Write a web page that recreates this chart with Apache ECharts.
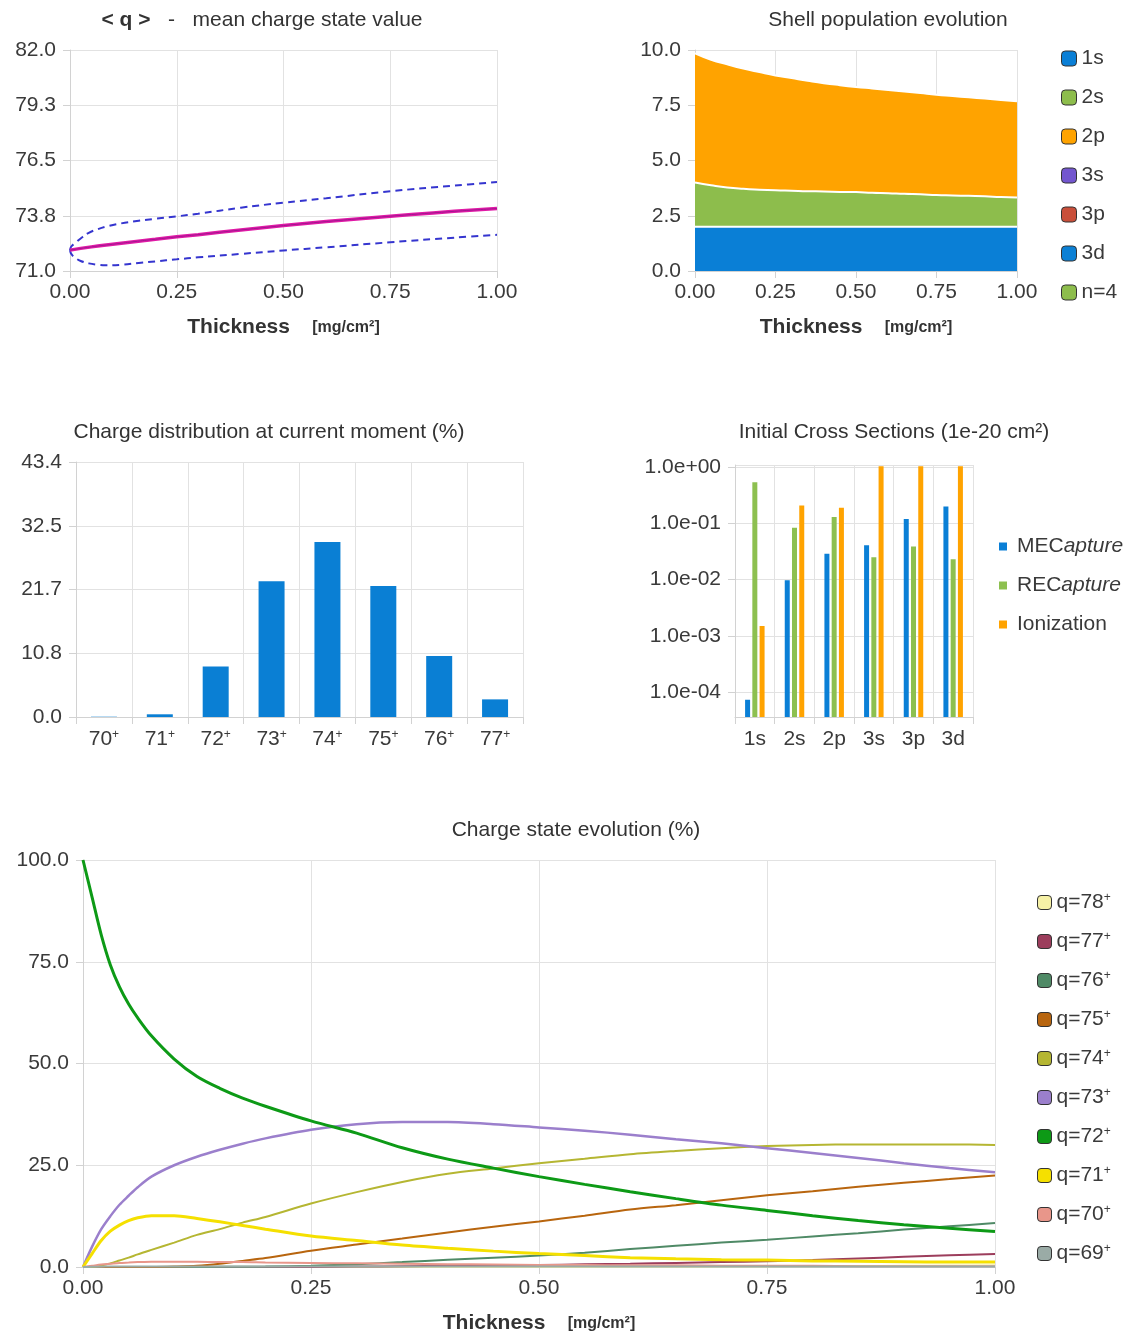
<!DOCTYPE html>
<html><head><meta charset="utf-8">
<script src="https://cdn.jsdelivr.net/npm/echarts@6/dist/echarts.min.js"></script>
<style>html,body{margin:0;padding:0;background:#fff}#c{width:1128px;height:1335px}</style>
</head><body><div id="c"></div><script>
// ---------- Chart 1: mean charge state ----------
const meanT = [0,0.05,0.1,0.15,0.2,0.25,0.3,0.4,0.5,0.6,0.7,0.8,0.9,1.0];
const meanQ = [72.04,72.2,72.33,72.46,72.58,72.7,72.81,73.04,73.26,73.46,73.64,73.81,73.97,74.11];
const bandT = [0,0.003,0.0125,0.025,0.044,0.065,0.083,0.12,0.161,0.2,0.25,0.3,0.4,0.5,0.6,0.75,0.9,1.0];
const upperQ = [72.04,72.22,72.40,72.62,72.9,73.08,73.2,73.37,73.5,73.6,73.72,73.85,74.15,74.4,74.62,74.97,75.25,75.43];
const lowerQ = [72.04,71.85,71.65,71.5,71.38,71.31,71.28,71.31,71.4,71.48,71.58,71.68,71.85,72.02,72.18,72.43,72.66,72.8];

// ---------- Chart 2: shell population ----------
const shellT = ['0','0.05','0.1','0.15','0.2','0.25','0.3','0.35','0.4','0.45','0.5','0.55','0.6','0.65','0.7','0.75','0.8','0.85','0.9','0.95','1'];
const shellNames = ['1s','2s','2p','3s','3p','3d','n=4'];
const pop1s = [2,2,2,2,2,2,2,2,2,2,2,2,2,2,2,2,2,2,2,2,2];
const pop2s = [2.0,1.88,1.78,1.72,1.68,1.65,1.63,1.61,1.6,1.58,1.57,1.54,1.52,1.49,1.47,1.44,1.42,1.4,1.38,1.35,1.33];
const pop2p = [5.85,5.68,5.57,5.44,5.32,5.2,5.1,5.0,4.9,4.83,4.76,4.72,4.67,4.63,4.58,4.54,4.5,4.46,4.42,4.39,4.35];
const pop3s = [0,0,0,0,0,0,0,0,0,0,0,0,0,0,0,0,0,0,0,0,0];
const pop3p = [0,0,0,0,0,0,0,0,0,0,0,0,0,0,0,0,0,0,0,0,0];
const pop3d = [0,0,0,0,0,0,0,0,0,0,0,0,0,0,0,0,0,0,0,0,0];
const popN4 = [0,0,0,0,0,0,0,0,0,0,0,0,0,0,0,0,0,0,0,0,0];

// ---------- Chart 3: charge distribution ----------
const chargeCats = ['70','71','72','73','74','75','76','77'];
const chargeDist = [0.05,0.46,8.6,23.1,29.8,22.3,10.4,3.0];

// ---------- Chart 4: cross sections ----------
const csCats = ['1s','2s','2p','3s','3p','3d'];
const meCapture = [7.3e-5,9.8e-3,0.029,0.041,0.12,0.2];
const reCapture = [0.54,0.084,0.13,0.025,0.039,0.023];
const ionization = [1.5e-3,0.21,0.19,1.05,1.05,1.05];

// ---------- Chart 5: charge state evolution ----------
const evoT = [0,0.01,0.02,0.03,0.04,0.05,0.06,0.075,0.1,0.125,0.15,0.175,0.2,0.25,0.3,0.35,0.4,0.45,0.5,0.55,0.6,0.65,0.7,0.75,0.8,0.85,0.9,0.95,1.0];
const q78 = [0,0,0,0,0,0,0,0,0,0,0,0,0,0,0,0,0,0,0,0.02,0.05,0.08,0.1,0.15,0.2,0.25,0.3,0.35,0.4];
const q77 = [0,0,0,0,0,0,0,0,0,0,0,0,0,0,0.1,0.2,0.3,0.4,0.5,0.65,0.8,1.0,1.2,1.4,1.7,2.1,2.5,2.9,3.2];
const q76 = [0,0,0,0,0,0,0,0,0,0,0.05,0.08,0.1,0.3,0.7,1.2,1.8,2.3,2.8,3.5,4.4,5.2,6.0,6.7,7.5,8.3,9.2,10.0,10.8];
const q75 = [0,0,0,0,0,0,0,0,0.1,0.3,0.8,1.5,2.2,4.0,5.5,7.0,8.5,9.9,11.2,12.6,14.1,15.2,16.4,17.6,18.6,19.7,20.7,21.6,22.5];
const q74 = [0,0,0.3,0.9,1.6,2.3,3.1,4.2,6.0,7.9,9.3,10.9,12.3,15.6,18.4,20.9,22.9,24.2,25.5,26.6,27.7,28.5,29.2,29.7,30.0,30.1,30.1,30.1,30.0];
const q73 = [0,5,9.3,12.5,15.3,17.5,19.6,22.2,25,27.1,28.8,30.3,31.6,33.7,35.1,35.6,35.6,35.1,34.3,33.5,32.5,31.4,30.4,29.2,28.0,26.8,25.5,24.3,23.3];
const q72 = [100,90.8,81.6,74.2,68.8,64.6,61.2,56.8,51.1,46.8,43.9,41.5,39.5,35.9,32.9,29.3,26.5,24.3,22.2,20.3,18.5,16.8,15.2,13.9,12.6,11.4,10.4,9.5,8.7];
const q71 = [0,3.3,6.5,8.8,10.3,11.4,12.1,12.6,12.6,11.9,11.1,10.2,9.3,7.6,6.5,5.4,4.6,3.9,3.3,2.8,2.3,2.0,1.8,1.7,1.5,1.4,1.3,1.2,1.2];
const q70 = [0,0.3,0.6,0.8,1.0,1.1,1.2,1.3,1.3,1.3,1.2,1.2,1.1,1.0,0.9,0.8,0.7,0.6,0.5,0.5,0.4,0.4,0.3,0.3,0.3,0.2,0.2,0.2,0.2];
const q69 = [0,0.05,0.08,0.1,0.1,0.1,0.1,0.1,0.1,0.1,0.1,0.1,0.1,0.1,0.1,0.1,0.1,0.1,0.1,0.1,0.1,0.1,0.1,0.1,0.1,0.1,0.1,0.1,0.1];
const evoNames = ['q=78','q=77','q=76','q=75','q=74','q=73','q=72','q=71','q=70','q=69'];
const evoData = [q78,q77,q76,q75,q74,q73,q72,q71,q70,q69];
const evoColors = ['#f6f1a6','#9c3d5c','#4f8a66','#b8650e','#b5b632','#9b7fcc','#0d9a16','#f5e000','#e8968a','#9aaba6'];
const evoWidths = [2,2,2,2,2,2.5,3,3,2,2];

// ---------- shared styles ----------
const FONT = 'Liberation Sans';
const GRIDC = '#e2e2e2', AXC = '#d2d2d2', TXT = '#3a3a3a';
const FS = 21;
const pairs = (xs, ys) => xs.map((x, i) => [x, ys[i]]);
function axisBase(extra) {
  return Object.assign({
    axisLine: {show: true, lineStyle: {color: AXC}},
    axisTick: {show: true, length: 7, lineStyle: {color: AXC}},
    splitLine: {show: true, lineStyle: {color: GRIDC}},
    axisLabel: {color: TXT, fontSize: FS, fontFamily: FONT}
  }, extra);
}
const nameRich = {
  b: {fontSize: 21, fontWeight: 'bold', color: '#333', fontFamily: FONT},
  u: {fontSize: 16, fontWeight: 'bold', color: '#333', fontFamily: FONT}
};
const thickName = '{b|Thickness}{u|     [mg/cm²]}';
function xThick(gridIndex, gap) {
  return axisBase({
    type: 'value', gridIndex, min: 0, max: 1, interval: 0.25,
    axisLabel: {color: TXT, fontSize: FS, fontFamily: FONT, margin: 11, formatter: v => v.toFixed(2)},
    name: thickName, nameLocation: 'middle', nameGap: gap,
    nameTextStyle: {rich: nameRich}
  });
}
const supRich = {
  n: {fontSize: FS, fontFamily: FONT, color: TXT},
  p: {fontSize: 12, fontFamily: FONT, color: TXT, verticalAlign: 'top', lineHeight: 12}
};
const pad2 = n => (n < 10 ? '0' : '') + n;

const series = [];
// chart 1
series.push({type: 'line', xAxisIndex: 0, yAxisIndex: 0, data: pairs(bandT, upperQ), smooth: 0.4, showSymbol: false,
  lineStyle: {color: '#3535cf', width: 2, type: [7, 5]}});
series.push({type: 'line', xAxisIndex: 0, yAxisIndex: 0, data: pairs(bandT, lowerQ), smooth: 0.4, showSymbol: false,
  lineStyle: {color: '#3535cf', width: 2, type: [7, 5]}});
series.push({type: 'line', xAxisIndex: 0, yAxisIndex: 0, data: pairs(meanT, meanQ), smooth: true, showSymbol: false,
  lineStyle: {color: '#e01aa6', width: 3.5}});
series.push({type: 'line', xAxisIndex: 0, yAxisIndex: 0, data: pairs(meanT, meanQ), smooth: true, showSymbol: false,
  lineStyle: {color: '#a01690', width: 1}});
// chart 2
const shellData = [pop1s, pop2s, pop2p, pop3s, pop3p, pop3d, popN4];
const shellColors = ['#0a7fd6', '#8dbd4c', '#ffa300', '#7356cf', '#c94f3a', '#0b80d5', '#8dbd4c'];
shellNames.forEach((nm, i) => {
  const visible = i < 3;
  series.push({type: 'line', name: nm, xAxisIndex: 1, yAxisIndex: 1, stack: 'shell', data: shellData[i],
    smooth: true, showSymbol: false, color: shellColors[i],
    lineStyle: {color: '#fff', width: visible ? 2 : 0, opacity: visible ? 1 : 0},
    areaStyle: {color: shellColors[i], opacity: 1}});
});
// chart 3
series.push({type: 'bar', xAxisIndex: 2, yAxisIndex: 2, data: chargeDist, barWidth: 26, itemStyle: {color: '#0a7fd4'}});
// chart 4
const csData = [meCapture, reCapture, ionization];
const csNames = ['MECapture', 'RECapture', 'Ionization'];
const csColors = ['#0a7fd6', '#8dc050', '#ffa300'];
csNames.forEach((nm, i) => {
  series.push({type: 'bar', name: nm, xAxisIndex: 3, yAxisIndex: 3, data: csData[i], barWidth: 5, barGap: '45%',
    color: csColors[i], itemStyle: {color: csColors[i]}});
});
// chart 5
evoNames.forEach((nm, i) => {
  series.push({type: 'line', name: nm, xAxisIndex: 4, yAxisIndex: 4, data: pairs(evoT, evoData[i]),
    smooth: 0.3, showSymbol: false, color: evoColors[i],
    lineStyle: {color: evoColors[i], width: evoWidths[i]}});
});

const titleStyle = {font: '21px "Liberation Sans"', fill: '#333', textAlign: 'center', textVerticalAlign: 'middle'};
function titleText(x, y, text, rich) {
  return {type: 'text', x, y, style: Object.assign({}, titleStyle, {text, rich})};
}

const option = {
  animation: false,
  backgroundColor: '#fff',
  textStyle: {fontFamily: FONT},
  graphic: [
    titleText(262, 20, '{b|< q >}{n|   -   mean charge state value}', {
      b: {fontSize: 21, fontWeight: 'bold', fill: '#333', fontFamily: FONT},
      n: {fontSize: 21, fill: '#333', fontFamily: FONT}}),
    titleText(888, 20, 'Shell population evolution'),
    titleText(269, 432, 'Charge distribution at current moment (%)'),
    titleText(894, 432, 'Initial Cross Sections (1e-20 cm²)'),
    titleText(576, 830, 'Charge state evolution (%)')
  ],
  grid: [
    {left: 70, top: 50, width: 427, height: 221},
    {left: 695, top: 50, width: 322, height: 221},
    {left: 76, top: 462, width: 447, height: 255},
    {left: 735, top: 465, width: 238, height: 252},
    {left: 83, top: 860, width: 912, height: 407}
  ],
  xAxis: [
    xThick(0, 46),
    axisBase({type: 'category', gridIndex: 1, data: shellT, boundaryGap: false,
      axisTick: {show: true, length: 7, interval: 4, lineStyle: {color: AXC}},
      splitLine: {show: true, interval: 4, lineStyle: {color: GRIDC}},
      axisLabel: {color: TXT, fontSize: FS, fontFamily: FONT, margin: 11, interval: 4, formatter: v => Number(v).toFixed(2)},
      name: thickName, nameLocation: 'middle', nameGap: 46, nameTextStyle: {rich: nameRich}}),
    axisBase({type: 'category', gridIndex: 2, data: chargeCats,
      axisLabel: {margin: 12, interval: 0, formatter: v => '{n|' + v + '}{p|+}', rich: supRich}}),
    axisBase({type: 'category', gridIndex: 3, data: csCats,
      axisLabel: {color: TXT, fontSize: FS, fontFamily: FONT, margin: 12, interval: 0}}),
    xThick(4, 46)
  ],
  yAxis: [
    axisBase({type: 'value', gridIndex: 0, min: 71, max: 82, interval: 2.75,
      axisLabel: {color: TXT, fontSize: FS, fontFamily: FONT, margin: 14, formatter: v => v.toFixed(1)}}),
    axisBase({type: 'value', gridIndex: 1, min: 0, max: 10, interval: 2.5,
      axisLabel: {color: TXT, fontSize: FS, fontFamily: FONT, margin: 14, formatter: v => v.toFixed(1)}}),
    axisBase({type: 'value', gridIndex: 2, min: 0, max: 43.4, interval: 10.85,
      axisLabel: {color: TXT, fontSize: FS, fontFamily: FONT, margin: 14, formatter: v => v.toFixed(1)}}),
    axisBase({type: 'log', gridIndex: 3, min: 3.6e-5, max: 1.1, logBase: 10, startValue: 3.6e-5,
      axisLabel: {color: TXT, fontSize: FS, fontFamily: FONT, margin: 14, showMinLabel: false, showMaxLabel: false,
        formatter: v => { const e = Math.round(Math.log10(v)); return '1.0e' + (e < 0 ? '-' : '+') + pad2(Math.abs(e)); }}}),
    axisBase({type: 'value', gridIndex: 4, min: 0, max: 100, interval: 25,
      axisLabel: {color: TXT, fontSize: FS, fontFamily: FONT, margin: 14, formatter: v => v.toFixed(1)}})
  ],
  legend: [
    {data: shellNames, orient: 'vertical', left: 1056, top: 43, icon: 'roundRect', itemWidth: 15, itemHeight: 15,
      itemGap: 18, itemStyle: {borderColor: '#333', borderWidth: 1}, selectedMode: false,
      textStyle: {fontSize: FS, color: TXT, fontFamily: FONT}},
    {data: csNames, orient: 'vertical', left: 994, top: 531, icon: 'rect', itemWidth: 8, itemHeight: 8,
      itemGap: 18, selectedMode: false,
      formatter: n => n === 'Ionization' ? '{n|Ionization}' : '{n|' + n.slice(0, 3) + '}{i|' + n.slice(3) + '}',
      textStyle: {fontSize: FS, color: TXT, fontFamily: FONT, padding: [0, 0, 0, 5], rich: {
        n: {fontSize: FS, color: TXT, fontFamily: FONT},
        i: {fontSize: FS, color: TXT, fontFamily: FONT, fontStyle: 'italic'}}}},
    {data: evoNames, orient: 'vertical', left: 1032, top: 887, icon: 'roundRect', itemWidth: 14, itemHeight: 14,
      itemGap: 18, itemStyle: {borderColor: '#333', borderWidth: 1}, selectedMode: false,
      formatter: n => '{n|' + n + '}{p|+}',
      textStyle: {fontSize: FS, color: TXT, fontFamily: FONT, rich: supRich}}
  ],
  series
};
const chart = echarts.init(document.getElementById('c'), null, {renderer: 'canvas'});
chart.setOption(option);
</script></body></html>
